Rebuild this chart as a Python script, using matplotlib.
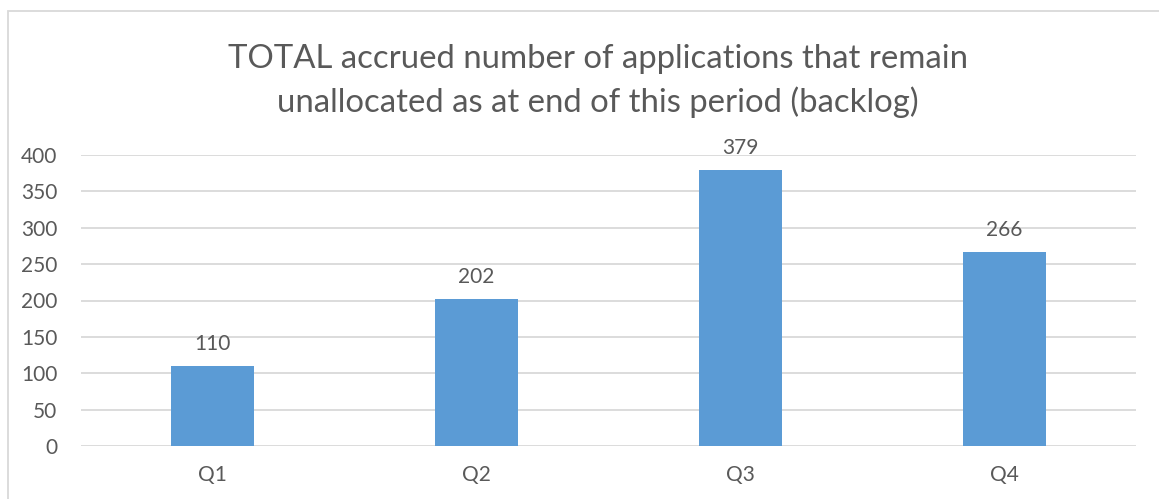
import numpy as np
import matplotlib.pyplot as plt
from matplotlib.patches import Rectangle

quarters = ['Q1', 'Q2', 'Q3', 'Q4']
backlog = [110, 202, 379, 266]
y_ticks = [0, 50, 100, 150, 200, 250, 300, 350, 400]

txt = '#595959'
plt.rcParams['font.family'] = ['Lato', 'DejaVu Sans']

fig = plt.figure(figsize=(11.59, 4.99), dpi=100)
ax = fig.add_axes([81 / 1159, (499 - 446) / 499, (1136 - 81) / 1159, (446 - 155) / 499])

x = np.arange(len(quarters))
ax.bar(x, backlog, width=0.315, color='#5B9BD5', zorder=3)
for xi, v in zip(x, backlog):
    ax.text(xi, v + 17, str(v), ha='center', va='bottom', fontsize=15, color=txt)

ax.set_xlim(-0.5, 3.5)
ax.set_ylim(0, 400)
ax.set_yticks(y_ticks)
ax.set_xticks(x)
ax.set_xticklabels(quarters)
ax.tick_params(axis='both', length=0, labelsize=15, labelcolor=txt)
ax.tick_params(axis='y', pad=17)
ax.tick_params(axis='x', pad=14)
ax.grid(axis='y', color='#D9D9D9', linewidth=1.3, zorder=0)
for s in ax.spines.values():
    s.set_visible(False)

fig.text(598 / 1159, 1 - 81 / 499,
         'TOTAL accrued number of applications that remain\nunallocated as at end of this period (backlog)',
         ha='center', va='center', fontsize=23.7, color=txt, linespacing=1.5)

# chart frame (only top and left edges inside the picture)
fig.patches.append(Rectangle((8 / 1159, -0.1), 1.2, 1 - 11 / 499 + 0.1, transform=fig.transFigure,
                             fill=False, edgecolor='#D9D9D9', linewidth=1.3))

fig.savefig('out.png', dpi=100)
